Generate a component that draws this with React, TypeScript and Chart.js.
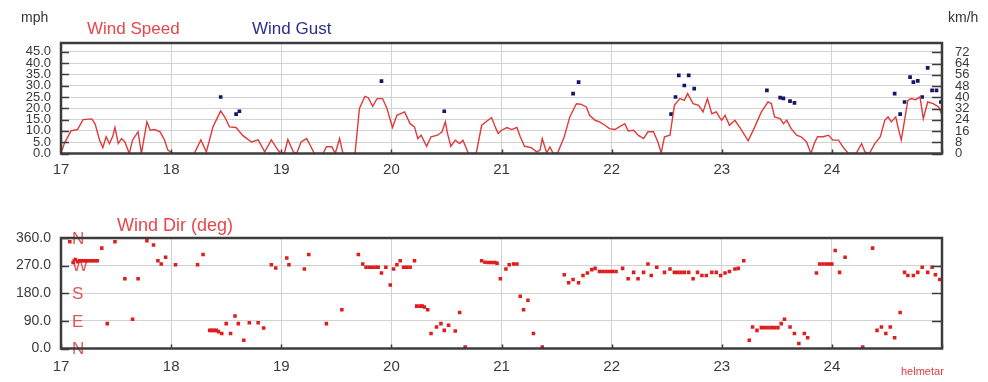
import React, { useEffect, useRef } from "react";
import { Chart, registerables } from "chart.js";

Chart.register(...registerables);

const FONT = "'Liberation Sans', Arial, sans-serif";

// ---------- data ----------
const dayTicks = [17, 18, 19, 20, 21, 22, 23, 24, 25];
const mphTicks = [0, 5, 10, 15, 20, 25, 30, 35, 40, 45];
const kmhTicks = [0, 8, 16, 24, 32, 40, 48, 56, 64, 72];
const dirTicks = [0, 90, 180, 270, 360];
const dirLetters = ["N", "E", "S", "W", "N"];
const MPH_MAX = 48.9;

const speedDays = [
  17.01, 17.03, 17.09, 17.15, 17.2, 17.28, 17.31, 17.35, 17.38, 17.41, 17.44, 17.47, 17.49, 17.52, 17.55, 17.58,
  17.62, 17.65, 17.7, 17.73, 17.78, 17.81, 17.85, 17.9, 17.94, 17.97, 18.02, 18.21, 18.27, 18.32, 18.38, 18.45,
  18.49, 18.53, 18.59, 18.65, 18.73, 18.79, 18.85, 18.91, 18.97, 19.0, 19.03, 19.06, 19.11, 19.14, 19.18, 19.23,
  19.27, 19.3, 19.38, 19.41, 19.46, 19.49, 19.53, 19.56, 19.67, 19.71, 19.76, 19.79, 19.83, 19.87, 19.92, 19.96,
  20.01, 20.05, 20.12, 20.17, 20.21, 20.24, 20.27, 20.32, 20.36, 20.42, 20.46, 20.49, 20.51, 20.54, 20.58, 20.62,
  20.65, 20.7, 20.77, 20.82, 20.91, 20.95, 20.97, 21.0, 21.05, 21.09, 21.14, 21.17, 21.21, 21.27, 21.32, 21.35,
  21.37, 21.41, 21.44, 21.47, 21.51, 21.57, 21.62, 21.68, 21.72, 21.77, 21.8, 21.85, 21.89, 21.94, 21.98, 22.03,
  22.07, 22.12, 22.15, 22.2, 22.24, 22.29, 22.33, 22.38, 22.42, 22.45, 22.48, 22.53, 22.57, 22.62, 22.66, 22.69,
  22.74, 22.79, 22.83, 22.87, 22.91, 22.95, 22.98, 23.0, 23.03, 23.07, 23.12, 23.18, 23.24, 23.3, 23.36, 23.42,
  23.45, 23.48, 23.53, 23.56, 23.59, 23.63, 23.68, 23.72, 23.77, 23.81, 23.84, 23.87, 23.92, 23.97, 24.01, 24.06,
  24.1, 24.15, 24.22, 24.27, 24.3, 24.34, 24.39, 24.44, 24.48, 24.51, 24.54, 24.58, 24.6, 24.63, 24.66, 24.69,
  24.72, 24.76, 24.8, 24.83, 24.87, 24.92, 24.97, 25.0,
];
const speedMph = [
  1.5, 4.4, 10, 10.6, 15, 15.3, 13, 6, 2.6, 7.4, 4.4, 7.6, 11.5, 4.4, 6.6, 5.1,
  0, 6, 9.6, 0, 14, 10.3, 10.6, 9.6, 6, 1.5, 0, 0, 6, 0.7, 11.8, 18.8,
  15.9, 11.8, 11.5, 8, 5.1, 6, 0.7, 6, 1.5, 0, 0.5, 6.2, 0.7, 0, 5.1, 6.6,
  3, 0, 0, 3, 3, 0, 6.6, 0, 0, 19.9, 25.3, 24.7, 20.9, 24.3, 24.3, 19.9,
  11.5, 16.9, 18.4, 13.2, 11.8, 6.6, 8.1, 3.2, 7.4, 8.1, 9.6, 14, 8.8, 3.2, 5.9, 4.4,
  5.9, 0, 0, 12.5, 15.9, 11, 8.8, 10.3, 11.5, 10.6, 11.5, 7.4, 3.2, 2.6, 0.7, 1.5,
  6.6, 0.3, 2.9, 0, 0.3, 7.4, 16.2, 22, 21.8, 20.6, 16.9, 14.7, 14, 12.5, 11, 10.6,
  11.8, 13.2, 10, 10.3, 8.1, 6.6, 9.6, 9.6, 5.1, 0.3, 7.4, 8.1, 21.3, 24.3, 23.5, 26.5,
  22.1, 21.3, 18.4, 24.3, 17.6, 18.4, 16, 14.7, 16.9, 12.5, 14.7, 10.3, 5.6, 11.8, 18.4, 22.8,
  22.1, 16.2, 15.4, 13.2, 14.7, 11, 8.1, 7.4, 5.1, 0, 4.4, 7.4, 7.4, 8.1, 5.9, 5.9,
  2.9, 0, 0, 4.4, 0.7, 0, 4.4, 7.4, 14.7, 16.2, 14, 16.2, 11.8, 5.9, 14.7, 23.5,
  24.3, 23.8, 25, 15.4, 22.8, 22.1, 20.6, 16.9,
];

const gustDays = [
  18.45, 18.59, 18.62, 19.91, 20.48, 21.65, 21.7, 22.54, 22.58, 22.61, 22.66, 22.7, 22.75, 23.41, 23.53,
  23.56, 23.62, 23.66, 24.57, 24.62, 24.66, 24.71, 24.74, 24.78, 24.82, 24.87, 24.91, 24.95, 24.99,
];
const gustMph = [
  25, 17.4, 18.7, 32, 18.7, 26.5, 31.6, 17.4, 25, 34.6, 30.1, 34.6, 28.7, 27.9, 24.7,
  24.4, 23.2, 22.4, 26.5, 17.4, 22.8, 33.8, 31.6, 32.1, 25, 37.9, 27.9, 27.9, 22.8,
];

const dirDays = [
  17.08, 17.11, 17.13, 17.15, 17.17, 17.19, 17.21, 17.23, 17.25, 17.27, 17.29, 17.31, 17.33, 17.37, 17.42, 17.49,
  17.58, 17.65, 17.7, 17.78, 17.84, 17.88, 17.91, 17.95, 18.04, 18.24, 18.29, 18.35, 18.37, 18.39, 18.41, 18.43,
  18.46, 18.5, 18.54, 18.58, 18.61, 18.66, 18.71, 18.79, 18.84, 18.91, 18.95, 19.05, 19.07, 19.21, 19.25, 19.41,
  19.55, 19.7, 19.74, 19.77, 19.8, 19.83, 19.86, 19.88, 19.91, 19.95, 19.99, 20.02, 20.05, 20.08, 20.11, 20.14,
  20.17, 20.21, 20.23, 20.26, 20.28, 20.3, 20.33, 20.36, 20.41, 20.45, 20.48, 20.52, 20.58, 20.62, 20.67, 20.82,
  20.85, 20.88, 20.91, 20.94, 20.96, 20.99, 21.04, 21.07, 21.11, 21.14, 21.17, 21.2, 21.24, 21.29, 21.37, 21.57,
  21.61, 21.65, 21.7, 21.74, 21.78, 21.82, 21.85, 21.89, 21.92, 21.95, 21.98, 22.01, 22.04, 22.1, 22.15, 22.2,
  22.24, 22.29, 22.33, 22.36, 22.41, 22.48, 22.53, 22.57, 22.6, 22.63, 22.66, 22.7, 22.74, 22.78, 22.82, 22.86,
  22.91, 22.95, 22.99, 23.03, 23.07, 23.12, 23.15, 23.2, 23.25, 23.28, 23.32, 23.36, 23.39, 23.42, 23.45, 23.48,
  23.51, 23.54, 23.57, 23.62, 23.66, 23.7, 23.75, 23.78, 23.86, 23.89, 23.92, 23.95, 23.98, 24.0, 24.03, 24.07,
  24.12, 24.28, 24.37, 24.41, 24.45, 24.49, 24.53, 24.57, 24.62, 24.66, 24.69, 24.74, 24.78, 24.82, 24.87, 24.91,
  24.94, 24.98,
];
const dirDeg = [
  348, 280, 290, 283, 286, 286, 286, 286, 286, 286, 286, 286, 286, 327, 81, 348,
  227, 95, 227, 351, 337, 286, 275, 297, 273, 273, 306, 59, 59, 59, 59, 55,
  49, 81, 49, 106, 81, 27, 84, 84, 67, 273, 262, 295, 273, 259, 306, 81,
  126, 306, 275, 265, 265, 265, 265, 265, 246, 265, 207, 259, 273, 286, 265, 265,
  265, 286, 138, 138, 138, 135, 126, 49, 70, 81, 59, 76, 57, 117, 5, 286,
  281, 280, 280, 280, 278, 227, 259, 273, 275, 275, 170, 126, 157, 49, 5, 240,
  214, 225, 214, 238, 246, 257, 261, 251, 251, 251, 251, 251, 251, 261, 227, 248,
  227, 248, 275, 238, 265, 248, 259, 248, 248, 248, 248, 248, 227, 248, 238, 238,
  248, 248, 238, 246, 251, 259, 261, 286, 27, 70, 59, 68, 68, 68, 68, 68,
  68, 81, 95, 70, 49, 16, 49, 35, 246, 275, 275, 275, 275, 275, 319, 248,
  297, 5, 327, 59, 70, 49, 70, 35, 117, 248, 238, 238, 248, 265, 248, 265,
  240, 225,
];

// ---------- layout constants ----------
const W = 988;
const LEFT_W = 61;
const RIGHT_W = 46;
const TOP_H = 190;
const BOT_H = 192;

const gridColor = "#d2d2d2";
const borderColor = "#3c3c3c";

function frame(chart: any, opts: { left: number[]; right: number[]; rightLen: number }) {
  const { ctx, chartArea } = chart;
  const { left, right, top, bottom } = chartArea;
  const ys = chart.scales.y;
  const xs = chart.scales.x;
  ctx.save();
  ctx.strokeStyle = borderColor;
  ctx.lineWidth = 1.5;
  ctx.beginPath();
  opts.left.forEach((v) => {
    const py = Math.round(ys.getPixelForValue(v)) + 0.5;
    ctx.moveTo(left, py);
    ctx.lineTo(left + 8, py);
  });
  opts.right.forEach((py) => {
    const p = Math.round(py) + 0.5;
    ctx.moveTo(right - opts.rightLen, p);
    ctx.lineTo(right, p);
  });
  dayTicks.forEach((d) => {
    const px = Math.round(xs.getPixelForValue(d)) + 0.5;
    ctx.moveTo(px, bottom);
    ctx.lineTo(px, bottom - 4);
  });
  ctx.stroke();
  ctx.lineWidth = 2.5;
  ctx.strokeRect(left, top, right - left, bottom - top);
  ctx.restore();
}

const topPlugin = {
  id: "topDecor",
  afterDraw(chart: any) {
    const y2 = chart.scales.y2;
    frame(chart, {
      left: mphTicks,
      right: kmhTicks.map((v) => y2.getPixelForValue(v)),
      rightLen: 10,
    });
    const { ctx } = chart;
    ctx.save();
    ctx.textBaseline = "middle";
    ctx.textAlign = "left";
    ctx.font = `14px ${FONT}`;
    ctx.fillStyle = "#333";
    ctx.fillText("mph", 21, 18);
    ctx.fillText("km/h", 948, 18);
    ctx.font = `17px ${FONT}`;
    ctx.fillStyle = "#e8474a";
    ctx.fillText("Wind Speed", 87, 29);
    ctx.fillStyle = "#2e2e8c";
    ctx.fillText("Wind Gust", 252, 29);
    ctx.restore();
  },
};

const botPlugin = {
  id: "botDecor",
  beforeDatasetsDraw(chart: any) {
    const { ctx, chartArea } = chart;
    const ys = chart.scales.y;
    ctx.save();
    ctx.font = `17px ${FONT}`;
    ctx.fillStyle = "#e35555";
    ctx.textAlign = "left";
    ctx.textBaseline = "middle";
    dirTicks.forEach((v, i) => {
      ctx.fillText(dirLetters[i], chartArea.left + 11, ys.getPixelForValue(v) + 1);
    });
    ctx.restore();
  },
  afterDraw(chart: any) {
    const ys = chart.scales.y;
    frame(chart, {
      left: dirTicks,
      right: [90, 180, 270].map((v) => ys.getPixelForValue(v)),
      rightLen: 10,
    });
    const { ctx } = chart;
    ctx.save();
    ctx.textBaseline = "middle";
    ctx.textAlign = "left";
    ctx.font = `18px ${FONT}`;
    ctx.fillStyle = "#e8474a";
    ctx.fillText("Wind Dir (deg)", 117, 36);
    ctx.font = `11px ${FONT}`;
    ctx.fillStyle = "#e33b3b";
    ctx.fillText("helmetar", 901, 182);
    ctx.restore();
  },
};

function xScale(height: number, pad: number) {
  return {
    type: "linear" as const,
    min: 17,
    max: 25,
    afterBuildTicks: (s: any) => {
      s.ticks = dayTicks.map((v) => ({ value: v }));
    },
    afterFit: (s: any) => {
      s.height = height;
    },
    ticks: {
      autoSkip: false,
      maxRotation: 0,
      padding: pad,
      color: "#3a3a3a",
      font: { family: FONT, size: 15 },
      callback: (v: any) => (v < 25 ? String(v) : ""),
    },
    grid: { color: gridColor, drawTicks: false, lineWidth: 1 },
    border: { display: false },
  };
}

function TopChart() {
  const ref = useRef<HTMLCanvasElement>(null);
  useEffect(() => {
    const chart = new Chart(ref.current as HTMLCanvasElement, {
      type: "line",
      data: {
        datasets: [
          {
            label: "Wind Speed",
            data: speedDays.map((d, i) => ({ x: d, y: speedMph[i] })),
            borderColor: "#e03a3a",
            borderWidth: 1.4,
            pointRadius: 0,
            tension: 0,
            yAxisID: "y",
          },
          {
            label: "Wind Gust",
            data: gustDays.map((d, i) => ({ x: d, y: gustMph[i] })),
            showLine: false,
            pointStyle: "rect",
            pointRadius: 2.6,
            backgroundColor: "#15156a",
            borderColor: "#15156a",
            borderWidth: 0,
            yAxisID: "y",
          },
        ],
      },
      options: {
        responsive: false,
        maintainAspectRatio: false,
        animation: false,
        devicePixelRatio: 1,
        layout: { padding: { top: 43, left: 0, right: 0, bottom: 0 } },
        plugins: { legend: { display: false }, tooltip: { enabled: false }, title: { display: false } },
        scales: {
          x: xScale(TOP_H - 153.5, 7),
          y: {
            type: "linear",
            position: "left",
            min: 0,
            max: MPH_MAX,
            afterBuildTicks: (s: any) => {
              s.ticks = mphTicks.map((v) => ({ value: v }));
            },
            afterFit: (s: any) => {
              s.width = LEFT_W;
            },
            ticks: {
              autoSkip: false,
              padding: 10,
              color: "#3a3a3a",
              font: { family: FONT, size: 13 },
              callback: (v: any) => Number(v).toFixed(1),
            },
            grid: { color: gridColor, drawTicks: false },
            border: { display: false },
          },
          y2: {
            type: "linear",
            position: "right",
            min: 0,
            max: MPH_MAX * 1.609344,
            afterBuildTicks: (s: any) => {
              s.ticks = kmhTicks.map((v) => ({ value: v }));
            },
            afterFit: (s: any) => {
              s.width = RIGHT_W;
            },
            ticks: {
              autoSkip: false,
              padding: 13,
              color: "#3a3a3a",
              font: { family: FONT, size: 13 },
              callback: (v: any) => String(v),
            },
            grid: { drawOnChartArea: false, drawTicks: false },
            border: { display: false },
          },
        },
      },
      plugins: [topPlugin],
    } as any);
    return () => chart.destroy();
  }, []);
  return <canvas ref={ref} width={W} height={TOP_H} style={{ display: "block", width: W, height: TOP_H }} />;
}

function BottomChart() {
  const ref = useRef<HTMLCanvasElement>(null);
  useEffect(() => {
    const chart = new Chart(ref.current as HTMLCanvasElement, {
      type: "scatter",
      data: {
        datasets: [
          {
            label: "Wind Dir (deg)",
            data: dirDays.map((d, i) => ({ x: d, y: dirDeg[i] })),
            showLine: false,
            pointStyle: "rect",
            pointRadius: 2.5,
            backgroundColor: "#e01c1c",
            borderColor: "#e01c1c",
            borderWidth: 0,
          },
        ],
      },
      options: {
        responsive: false,
        maintainAspectRatio: false,
        animation: false,
        devicePixelRatio: 1,
        layout: { padding: { top: 48, left: 0, right: RIGHT_W, bottom: 0 } },
        plugins: { legend: { display: false }, tooltip: { enabled: false }, title: { display: false } },
        scales: {
          x: xScale(BOT_H - 158.5, 9),
          y: {
            type: "linear",
            position: "left",
            min: 0,
            max: 360,
            afterBuildTicks: (s: any) => {
              s.ticks = dirTicks.map((v) => ({ value: v }));
            },
            afterFit: (s: any) => {
              s.width = LEFT_W;
            },
            ticks: {
              autoSkip: false,
              padding: 10,
              color: "#3a3a3a",
              font: { family: FONT, size: 14 },
              callback: (v: any) => Number(v).toFixed(1),
            },
            grid: { color: gridColor, drawTicks: false },
            border: { display: false },
          },
        },
      },
      plugins: [botPlugin],
    } as any);
    return () => chart.destroy();
  }, []);
  return <canvas ref={ref} width={W} height={BOT_H} style={{ display: "block", width: W, height: BOT_H }} />;
}

export default function App() {
  return (
    <div
      style={{
        position: "absolute",
        top: 0,
        left: 0,
        width: W,
        height: TOP_H + BOT_H,
        background: "#fff",
        overflow: "hidden",
      }}
    >
      <TopChart />
      <BottomChart />
    </div>
  );
}
